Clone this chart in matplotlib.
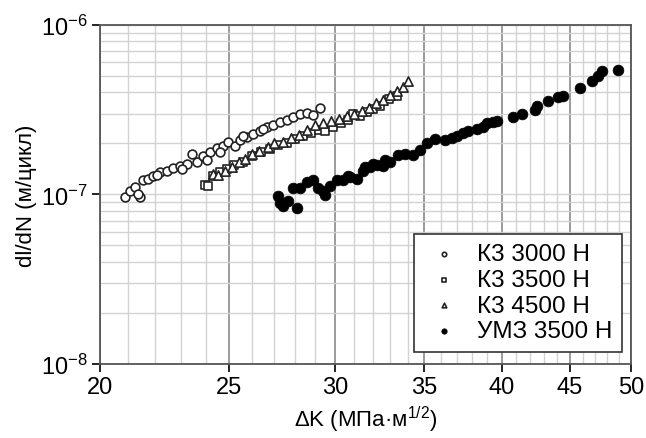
import numpy as np
import matplotlib.pyplot as plt
from matplotlib.ticker import FixedLocator, NullFormatter

plt.rcParams['font.family'] = ['Liberation Sans', 'DejaVu Sans']
plt.rcParams['mathtext.fontset'] = 'custom'
plt.rcParams['mathtext.rm'] = 'Liberation Sans'
plt.rcParams['mathtext.it'] = 'Liberation Sans'

# К3 3000 Н (open circles)
k3000_x = [20.88, 21.06, 21.25, 21.43, 21.54, 21.73, 21.91, 22.18, 22.45, 22.69,
           22.96, 23.24, 23.44, 23.64, 23.89, 24.18, 24.47, 24.73, 24.94, 25.25,
           25.47, 25.78, 26.04, 26.36, 26.68, 26.96, 27.29, 27.62, 27.91, 28.24,
           28.59, 28.89, 29.24, 21.35, 22.05, 23.05, 24.05, 24.6, 25.6, 26.5]
k3000_y = [9.6e-8, 1.04e-7, 1.11e-7, 9.6e-8, 1.21e-7, 1.24e-7, 1.29e-7, 1.36e-7, 1.38e-7, 1.44e-7,
           1.48e-7, 1.52e-7, 1.74e-7, 1.56e-7, 1.69e-7, 1.79e-7, 1.87e-7, 1.94e-7, 2.05e-7, 1.94e-7,
           2.08e-7, 2.19e-7, 2.28e-7, 2.38e-7, 2.51e-7, 2.58e-7, 2.69e-7, 2.76e-7, 2.88e-7, 2.96e-7,
           3.04e-7, 2.92e-7, 3.25e-7, 1.0e-7, 1.3e-7, 1.42e-7, 1.6e-7, 1.78e-7, 2.2e-7, 2.42e-7]

# К3 3500 Н (open squares)
k3500_x = [23.98, 24.1, 24.3, 24.6, 24.9, 25.2, 25.6, 26.0, 26.4, 26.8,
           27.2, 27.6, 28.0, 28.4, 28.8, 29.2, 29.5, 29.9, 30.3, 30.7,
           30.96, 31.3, 31.7, 32.0, 32.4, 32.9, 33.4]
k3500_y = [1.13e-7, 1.12e-7, 1.28e-7, 1.35e-7, 1.42e-7, 1.5e-7, 1.55e-7, 1.68e-7, 1.78e-7, 1.85e-7,
           1.95e-7, 2.02e-7, 2.12e-7, 2.2e-7, 2.3e-7, 2.4e-7, 2.38e-7, 2.5e-7, 2.62e-7, 2.75e-7,
           2.99e-7, 2.9e-7, 3.05e-7, 3.2e-7, 3.3e-7, 3.67e-7, 3.82e-7]

# К3 4500 Н (open triangles)
k4500_x = [24.3, 24.5, 24.8, 25.1, 25.4, 25.7, 26.0, 26.3, 26.7, 27.0,
           27.4, 27.8, 28.2, 28.6, 29.0, 29.4, 29.8, 30.2, 30.6, 31.0,
           31.4, 31.8, 32.2, 32.6, 33.0, 33.4, 33.7, 34.0]
k4500_y = [1.32e-7, 1.3e-7, 1.38e-7, 1.45e-7, 1.55e-7, 1.62e-7, 1.72e-7, 1.8e-7, 1.9e-7, 2.0e-7,
           2.05e-7, 2.15e-7, 2.25e-7, 2.4e-7, 2.55e-7, 2.65e-7, 2.72e-7, 2.8e-7, 2.9e-7, 3.0e-7,
           3.1e-7, 3.25e-7, 3.45e-7, 3.6e-7, 3.85e-7, 4.05e-7, 4.3e-7, 4.69e-7]

# УМЗ 3500 Н (filled circles)
umz_x = [27.19, 27.29, 27.43, 27.67, 27.91, 28.10, 28.24, 28.59, 28.89, 29.14,
         29.39, 29.49, 29.75, 30.11, 30.43, 30.69, 30.80, 31.17, 31.49, 31.60,
         31.88, 32.04, 32.26, 32.60, 32.71, 33.00, 33.45, 33.86, 34.33, 34.75,
         35.17, 35.66, 36.28, 36.7, 37.04, 37.4, 37.75, 38.34, 38.7, 39.01,
         39.4, 39.69, 40.80, 41.44, 42.38, 42.53, 43.34, 44.10, 44.48, 45.80,
         46.76, 47.25, 47.57, 48.90]
umz_y = [9.73e-8, 8.86e-8, 8.5e-8, 9.09e-8, 1.085e-7, 8.27e-8, 1.085e-7, 1.19e-7, 1.21e-7, 1.085e-7,
         1.04e-7, 9.86e-8, 1.12e-7, 1.21e-7, 1.21e-7, 1.29e-7, 1.27e-7, 1.24e-7, 1.38e-7, 1.46e-7,
         1.46e-7, 1.52e-7, 1.50e-7, 1.48e-7, 1.585e-7, 1.56e-7, 1.70e-7, 1.74e-7, 1.70e-7, 1.82e-7,
         2.0e-7, 2.13e-7, 2.08e-7, 2.15e-7, 2.22e-7, 2.3e-7, 2.35e-7, 2.44e-7, 2.5e-7, 2.62e-7,
         2.66e-7, 2.72e-7, 2.88e-7, 3.0e-7, 3.15e-7, 3.34e-7, 3.57e-7, 3.77e-7, 3.82e-7, 4.26e-7,
         4.68e-7, 5.01e-7, 5.36e-7, 5.44e-7]

x_ticks = [20, 25, 30, 35, 40, 45, 50]
y_ticks = [1e-8, 1e-7, 1e-6]
y_tick_labels = ['$10^{-8}$', '$10^{-7}$', '$10^{-6}$']

fig = plt.figure(figsize=(6.46, 4.39), dpi=100)
ax = fig.add_axes([0.155, 0.169, 0.822, 0.772])
ax.set_xscale('log')
ax.set_yscale('log')
ax.set_xlim(20, 50)
ax.set_ylim(1e-8, 1e-6)

ax.xaxis.set_major_locator(FixedLocator(x_ticks))
ax.xaxis.set_minor_locator(FixedLocator([v for v in range(21, 50) if v % 5 != 0]))
ax.xaxis.set_minor_formatter(NullFormatter())
ax.set_xticklabels([str(v) for v in x_ticks])
ax.yaxis.set_major_locator(FixedLocator(y_ticks))
ax.yaxis.set_minor_locator(FixedLocator([m * 10.0 ** e for e in (-8, -7) for m in range(2, 10)]))
ax.yaxis.set_minor_formatter(NullFormatter())
ax.set_yticklabels(y_tick_labels)

ax.grid(which='minor', color='#d2d2d2', lw=1.0)
ax.grid(which='major', axis='y', color='#d2d2d2', lw=1.0)
ax.grid(which='major', axis='x', color='#8a8a8a', lw=1.2)
ax.set_axisbelow(True)

ax.tick_params(which='major', direction='out', length=6, width=1.2, labelsize=17, pad=3)
ax.tick_params(which='minor', length=0)
for s in ax.spines.values():
    s.set_color('#555555')
    s.set_linewidth(1.3)

ax.scatter(k3000_x, k3000_y, s=40, marker='o', facecolors='white', edgecolors='#222222', linewidths=1.2, label='К3 3000 Н', zorder=3)
ax.scatter(k3500_x, k3500_y, s=36, marker='s', facecolors='white', edgecolors='#222222', linewidths=1.2, label='К3 3500 Н', zorder=3)
ax.scatter(k4500_x, k4500_y, s=44, marker='^', facecolors='white', edgecolors='#222222', linewidths=1.2, label='К3 4500 Н', zorder=3)
ax.scatter(umz_x, umz_y, s=60, marker='o', facecolors='black', edgecolors='black', linewidths=0.5, label='УМЗ 3500 Н', zorder=3)

leg = ax.legend(loc='lower right', bbox_to_anchor=(0.983, 0.035), fontsize=17.5, markerscale=0.5,
                frameon=True, fancybox=False, edgecolor='#333333', framealpha=1, borderaxespad=0,
                handletextpad=0.5, labelspacing=0.15, borderpad=0.4, handlelength=1.7)
leg.get_frame().set_linewidth(1.2)

ax.set_xlabel('ΔK (МПа·м$^{1/2}$)', fontsize=16, labelpad=4)
ax.set_ylabel('dl/dN (м/цикл)', fontsize=16, labelpad=3)

fig.savefig('out.png', dpi=100)
